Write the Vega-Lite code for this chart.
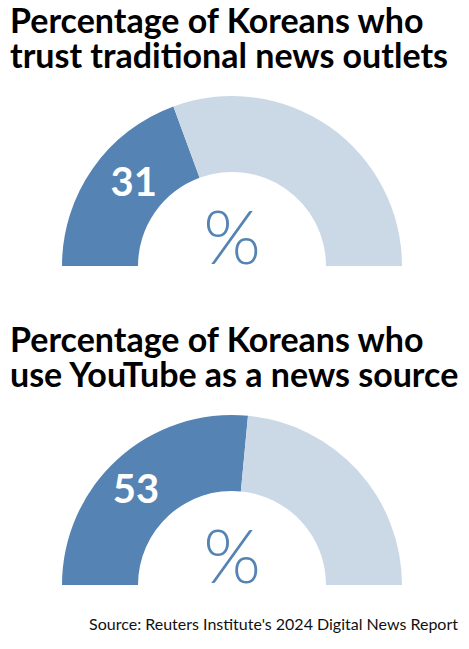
{
  "$schema": "https://vega.github.io/schema/vega-lite/v6.json",
  "padding": {"top": 6, "left": 0, "right": 0, "bottom": 0},
  "background": "white",
  "config": {"view": {"stroke": null}, "font": "Lato"},
  "spacing": 39,
  "title": {
    "text": "Source: Reuters Institute's 2024 Digital News Report",
    "orient": "bottom",
    "anchor": "end",
    "font": "Lato",
    "fontSize": 16,
    "fontWeight": "normal",
    "color": "#111111",
    "offset": 12,
    "dx": -6
  },
  "vconcat": [
    {
      "width": 464,
      "height": 40,
      "title": {
        "text": ["Percentage of Koreans who", "trust traditional news outlets"],
        "anchor": "start",
        "font": "Lato",
        "fontSize": 34,
        "fontWeight": "bold",
        "lineHeight": 35,
        "color": "#000000",
        "dx": 10,
        "offset": 21
      },
      "data": {
        "values": [
          {"survey": "Trust traditional news outlets", "part": "shown", "share": 38.8, "label": "31"},
          {"survey": "Trust traditional news outlets", "part": "rest", "share": 61.2, "label": ""}
        ]
      },
      "layer": [
        {
          "mark": {"type": "arc", "radius": 170, "radius2": 94},
          "encoding": {
            "theta": {"field": "share", "type": "quantitative", "stack": true, "scale": {"domain": [0, 100], "range": [-1.5708, 1.5708]}},
            "color": {"field": "part", "type": "nominal", "scale": {"domain": ["shown", "rest"], "range": ["#5583b3", "#cbd9e7"]}, "legend": null},
            "order": {"field": "part", "sort": "descending"}
          }
        },
        {
          "transform": [{"filter": "datum.part === 'shown'"}],
          "mark": {"type": "text", "radius": 128, "thetaOffset": 0.087, "font": "Lato", "fontSize": 40, "fontWeight": "bold", "color": "white"},
          "encoding": {
            "theta": {"field": "share", "type": "quantitative", "stack": true},
            "text": {"field": "label"}
          }
        },
        {
          "transform": [{"filter": "datum.part === 'shown'"}],
          "mark": {"type": "text", "text": "%", "font": "Lato", "fontSize": 74, "fontWeight": 300, "color": "#5583b3", "baseline": "alphabetic", "dy": -2},
          "encoding": {}
        }
      ]
    },
    {
      "width": 464,
      "height": 40,
      "title": {
        "text": ["Percentage of Koreans who", "use YouTube as a news source"],
        "anchor": "start",
        "font": "Lato",
        "fontSize": 34,
        "fontWeight": "bold",
        "lineHeight": 35,
        "color": "#000000",
        "dx": 10,
        "offset": 21
      },
      "data": {
        "values": [
          {"survey": "Use YouTube as a news source", "part": "shown", "share": 53, "label": "53"},
          {"survey": "Use YouTube as a news source", "part": "rest", "share": 47, "label": ""}
        ]
      },
      "layer": [
        {
          "mark": {"type": "arc", "radius": 170, "radius2": 94},
          "encoding": {
            "theta": {"field": "share", "type": "quantitative", "stack": true, "scale": {"domain": [0, 100], "range": [-1.5708, 1.5708]}},
            "color": {"field": "part", "type": "nominal", "scale": {"domain": ["shown", "rest"], "range": ["#5583b3", "#cbd9e7"]}, "legend": null},
            "order": {"field": "part", "sort": "descending"}
          }
        },
        {
          "transform": [{"filter": "datum.part === 'shown'"}],
          "mark": {"type": "text", "radius": 134, "thetaOffset": -0.06, "font": "Lato", "fontSize": 40, "fontWeight": "bold", "color": "white"},
          "encoding": {
            "theta": {"field": "share", "type": "quantitative", "stack": true},
            "text": {"field": "label"}
          }
        },
        {
          "transform": [{"filter": "datum.part === 'shown'"}],
          "mark": {"type": "text", "text": "%", "font": "Lato", "fontSize": 74, "fontWeight": 300, "color": "#5583b3", "baseline": "alphabetic", "dy": -2},
          "encoding": {}
        }
      ]
    }
  ]
}
